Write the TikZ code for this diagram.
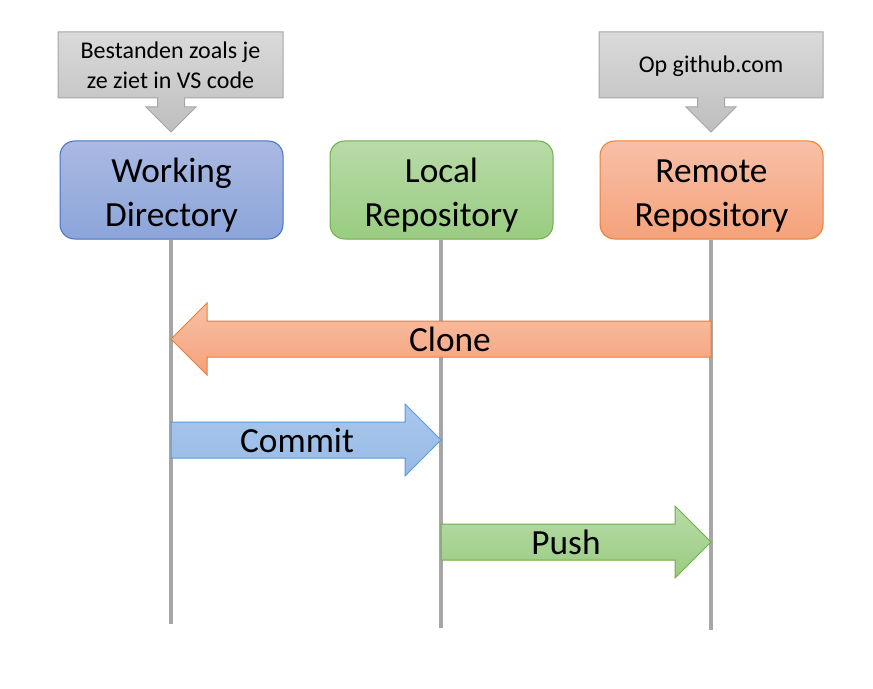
\documentclass[tikz,border=0pt]{standalone}
\usepackage{fontspec}
\setmainfont{Carlito}
\usetikzlibrary{calc}

\definecolor{wdtop}{RGB}{170,185,226}
\definecolor{wdbot}{RGB}{140,165,218}
\definecolor{wdline}{RGB}{68,114,196}
\definecolor{lrtop}{RGB}{184,219,168}
\definecolor{lrbot}{RGB}{153,204,129}
\definecolor{lrline}{RGB}{112,173,71}
\definecolor{rrtop}{RGB}{247,192,168}
\definecolor{rrbot}{RGB}{245,162,122}
\definecolor{rrline}{RGB}{237,125,49}
\definecolor{cmtop}{RGB}{170,199,236}
\definecolor{cmbot}{RGB}{150,186,230}
\definecolor{cmline}{RGB}{91,155,213}
\definecolor{notetop}{RGB}{218,218,218}
\definecolor{notebot}{RGB}{190,190,190}
\definecolor{noteline}{RGB}{165,165,165}
\definecolor{lifegray}{RGB}{166,166,166}

\newcommand{\tall}{\rule{0pt}{26pt}}

\begin{document}
\begin{tikzpicture}[x=0.75pt,y=-0.75pt,
	box/.style={rounded corners=11pt, minimum width=167.25pt, minimum height=73.5pt,
		inner sep=0pt, align=center, line width=0.75pt,
		font=\fontsize{26.5}{32.5}\selectfont},
	note/.style={inner sep=0pt, align=center, font=\fontsize{18}{22.5}\selectfont},
	notepath/.style={draw=noteline, line width=0.75pt, top color=notetop, bottom color=notebot},
	lifeline/.style={draw=lifegray, line width=3pt},
	label/.style={font=\fontsize{26.5}{32.5}\selectfont}]
	
	\useasboundingbox (0,0) rectangle (873,688);
	
	% boxes
	\node[box, draw=wdline, top color=wdtop, bottom color=wdbot] (wd) at (171.5,190) {\tall Working\\Directory};
	\node[box, draw=lrline, top color=lrtop, bottom color=lrbot] (lr) at (441.5,190) {\tall Local\\Repository};
	\node[box, draw=rrline, top color=rrtop, bottom color=rrbot] (rr) at (711.5,190) {\tall Remote\\Repository};
	
	% callouts
	\coordinate (wdtip) at (171,132);
	\coordinate (rrtip) at (711,132);
	\draw[notepath] ($(wdtip)+(-113,-100)$) -- ($(wdtip)+(112,-100)$) -- ($(wdtip)+(112,-34)$)
		-- ($(wdtip)+(13.5,-34)$) -- ++(0,9) -- ($(wdtip)+(25,-25)$) -- (wdtip)
		-- ($(wdtip)+(-25,-25)$) -- ($(wdtip)+(-13.5,-25)$) -- ($(wdtip)+(-13.5,-34)$)
		-- ($(wdtip)+(-113,-34)$) -- cycle;
	\draw[notepath] ($(rrtip)+(-112,-100)$) -- ($(rrtip)+(112,-100)$) -- ($(rrtip)+(112,-34)$)
		-- ($(rrtip)+(13.5,-34)$) -- ++(0,9) -- ($(rrtip)+(25,-25)$) -- (rrtip)
		-- ($(rrtip)+(-25,-25)$) -- ($(rrtip)+(-13.5,-25)$) -- ($(rrtip)+(-13.5,-34)$)
		-- ($(rrtip)+(-112,-34)$) -- cycle;
	\node[note] (wdnote) at (170.5,65) {Bestanden zoals je\\ze ziet in VS code};
	\node[note] (rrnote) at (711,66) {Op github.com};
	
	% lifelines
	\coordinate (wd-end) at (171,624);
	\coordinate (lr-end) at (441,628);
	\coordinate (rr-end) at (711,630);
	\draw[lifeline] (wd.south -| wd-end) -- (wd-end);
	\draw[lifeline] (lr.south -| lr-end) -- (lr-end);
	\draw[lifeline] (rr.south -| rr-end) -- (rr-end);
	
	% points on the lifelines
	\coordinate (wd-clone) at (171,339);
	\coordinate (rr-clone) at (711,339);
	\coordinate (wd-commit) at (171,440);
	\coordinate (lr-commit) at (441,440);
	\coordinate (lr-push) at (441,542);
	\coordinate (rr-push) at (711,542);
	
	% Clone
	\draw[draw=rrline, line width=0.75pt, top color=rrtop, bottom color=rrbot]
		($(rr-clone)+(0,-18)$) -- ($(wd-clone)+(36,-18)$) -- ($(wd-clone)+(36,-36)$)
		-- (wd-clone) -- ($(wd-clone)+(36,36)$) -- ($(wd-clone)+(36,18)$)
		-- ($(rr-clone)+(0,18)$) -- cycle;
	\node[label] (clone) at (450,339) {Clone};
	
	% Commit
	\draw[draw=cmline, line width=0.75pt, top color=cmtop, bottom color=cmbot]
		($(wd-commit)+(0,-18)$) -- ($(lr-commit)+(-36,-18)$) -- ($(lr-commit)+(-36,-36)$)
		-- (lr-commit) -- ($(lr-commit)+(-36,36)$) -- ($(lr-commit)+(-36,18)$)
		-- ($(wd-commit)+(0,18)$) -- cycle;
	\node[label] (commit) at (297,440) {Commit};
	
	% Push
	\draw[draw=lrline, line width=0.75pt, top color=lrtop, bottom color=lrbot]
		($(lr-push)+(0,-18)$) -- ($(rr-push)+(-36,-18)$) -- ($(rr-push)+(-36,-36)$)
		-- (rr-push) -- ($(rr-push)+(-36,36)$) -- ($(rr-push)+(-36,18)$)
		-- ($(lr-push)+(0,18)$) -- cycle;
	\node[label] (push) at (566,542) {Push};
	
\end{tikzpicture}
\end{document}
